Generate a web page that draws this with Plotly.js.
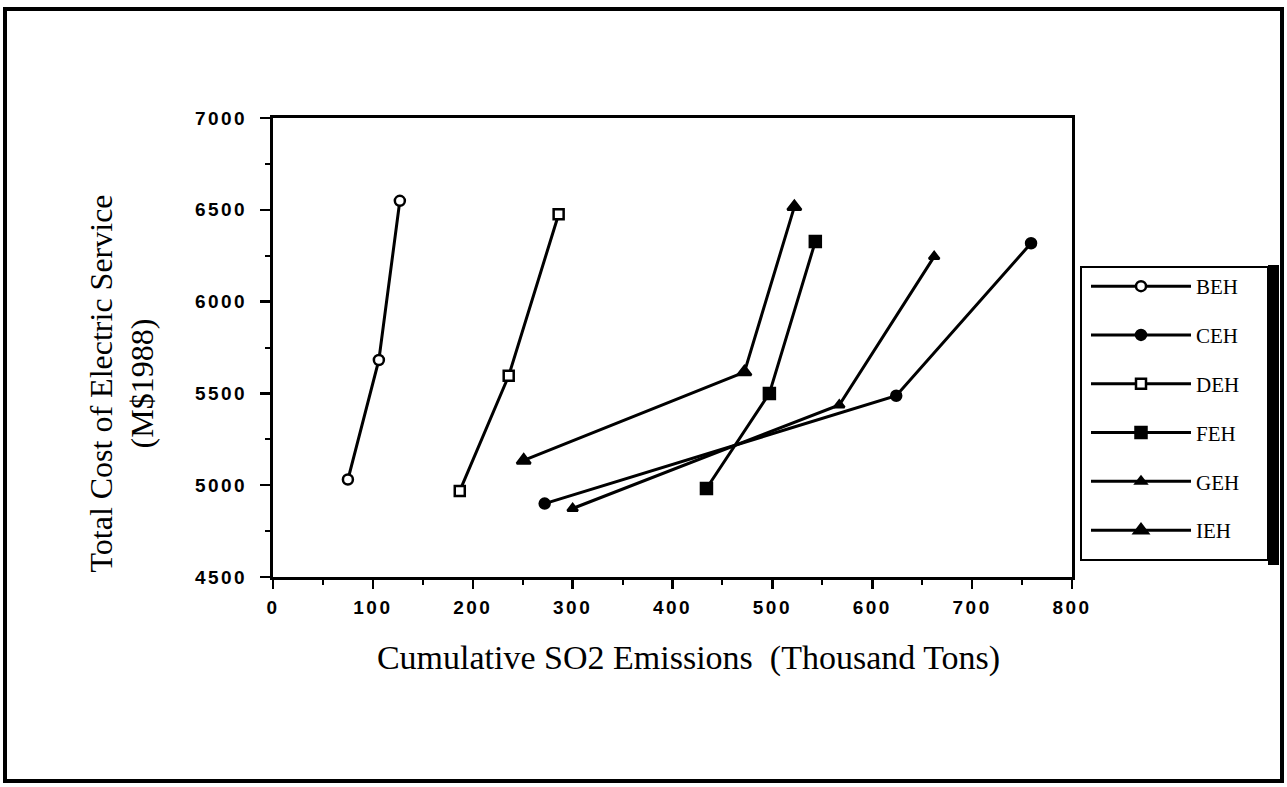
<!DOCTYPE html>
<html>
<head>
<meta charset="utf-8">
<script src="https://cdn.plot.ly/plotly-3.0.1.min.js"></script>
<style>
  html, body { margin: 0; padding: 0; background: #fff; }
  #chart { width: 1287px; height: 787px; }
  .g-xtitle { transform: translate(16px, 0px); }
  .g-ytitle { transform: translate(0px, 36px); }
  .xtick text, .ytick text { letter-spacing: 2.5px; }
</style>
</head>
<body>
<div id="chart"></div>
<script>
// Series names
const seriesNames = ["BEH", "CEH", "DEH", "FEH", "GEH", "IEH"];

// Cumulative SO2 emissions (thousand tons)
const behX = [75, 106, 127];
const cehX = [272, 624, 759];
const dehX = [187, 236, 286];
const fehX = [434, 497, 543];
const gehX = [300, 567, 662];
const iehX = [251, 472, 522];

// Total cost of electric service (M$1988)
const behY = [5031, 5682, 6549];
const cehY = [4900, 5487, 6318];
const dehY = [4969, 5596, 6476];
const fehY = [4982, 5500, 6327];
const gehY = [4873, 5437, 6245];
const iehY = [5135, 5616, 6516];

// Tick values / labels
const xTickVals = [0, 100, 200, 300, 400, 500, 600, 700, 800];
const yTickVals = [4500, 5000, 5500, 6000, 6500, 7000];

const xs = [behX, cehX, dehX, fehX, gehX, iehX];
const ys = [behY, cehY, dehY, fehY, gehY, iehY];
const symbols = ["circle", "circle", "square", "square", "triangle-up", "triangle-up"];
const fills = ["white", "black", "white", "black", "black", "black"];
const sizes = [10, 10, 10, 11, 9, 12];

const traces = seriesNames.map((name, i) => ({
  type: "scatter",
  mode: "lines+markers",
  name: name,
  x: xs[i],
  y: ys[i],
  legendgroup: name,
  line: { color: "black", width: 3 },
  marker: {
    symbol: symbols[i],
    size: sizes[i],
    color: fills[i],
    line: { color: "black", width: 2.5 }
  }
}));

// pixel -> paper helpers for decoration shapes
const L = 273, R = 1072, T = 118, B = 577;
const px = v => (v - L) / (R - L);
const py = v => (B - v) / (B - T);

const tickFont = { family: "Liberation Sans", size: 19, color: "black", weight: "bold" };

const layout = {
  width: 1287,
  height: 787,
  paper_bgcolor: "white",
  plot_bgcolor: "white",
  margin: { l: L, r: 1287 - R, t: T, b: 787 - B, pad: 0 },
  showlegend: true,
  legend: {
    x: px(1086), y: py(266), xanchor: "left", yanchor: "top",
    bgcolor: "rgba(0,0,0,0)", borderwidth: 0,
    font: { family: "Liberation Serif", size: 21, color: "black" },
    tracegroupgap: 18.5,
    itemwidth: 100
  },
  xaxis: {
    range: [0, 800],
    tickvals: xTickVals,
    ticks: "outside", ticklen: 9, tickwidth: 2.5, tickcolor: "black",
    minor: { dtick: 50, ticks: "outside", ticklen: 5, tickwidth: 2, tickcolor: "black" },
    showgrid: false, zeroline: false,
    showline: true, linecolor: "black", linewidth: 3, mirror: true,
    tickfont: tickFont,
    ticklabelstandoff: 2,
    title: {
      text: "Cumulative SO2 Emissions  (Thousand Tons)",
      font: { family: "Liberation Serif", size: 34, color: "black" },
      standoff: 29
    },
    fixedrange: true
  },
  yaxis: {
    range: [4500, 7000],
    tickvals: yTickVals,
    ticks: "outside", ticklen: 10, tickwidth: 2.5, tickcolor: "black",
    minor: { dtick: 250, ticks: "outside", ticklen: 5, tickwidth: 2, tickcolor: "black" },
    showgrid: false, zeroline: false,
    showline: true, linecolor: "black", linewidth: 3, mirror: true,
    tickfont: tickFont,
    ticklabelstandoff: 9,
    title: {
      text: "Total Cost of Electric Service<br>(M$1988)",
      font: { family: "Liberation Serif", size: 32, color: "black" },
      standoff: 32
    },
    fixedrange: true
  },
  shapes: [
    // outer page frame
    { type: "rect", xref: "paper", yref: "paper",
      x0: px(5), x1: px(1282), y0: py(781), y1: py(9),
      line: { color: "black", width: 4 } },
    // legend box
    { type: "rect", xref: "paper", yref: "paper",
      x0: px(1081), x1: px(1268), y0: py(560), y1: py(267),
      line: { color: "black", width: 2 } },
    // legend drop shadow (thick right edge)
    { type: "rect", xref: "paper", yref: "paper",
      x0: px(1268), x1: px(1279), y0: py(565), y1: py(265),
      fillcolor: "black", line: { width: 0 } }
  ]
};

Plotly.newPlot("chart", traces, layout, { displayModeBar: false, staticPlot: true });
</script>
</body>
</html>
